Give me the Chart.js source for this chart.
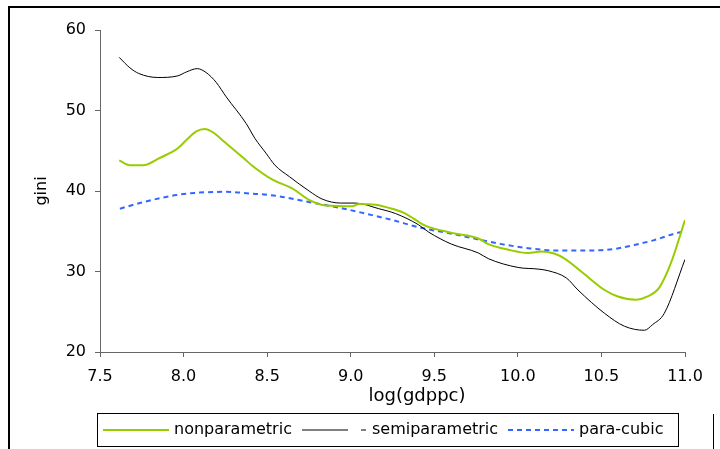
<!DOCTYPE html>
<html>
<head>
<meta charset="utf-8">
<script src="https://cdn.jsdelivr.net/npm/chart.js@4"></script>
<style>
  html, body { margin: 0; padding: 0; background: #fff; }
  #wrap { width: 720px; height: 449px; position: relative; }
</style>
</head>
<body>
<div id="wrap"><canvas id="c" width="720" height="449"></canvas></div>
<script>
// values
var npX = [7.615, 7.679, 7.758, 7.857, 7.917, 7.966, 8.016, 8.076, 8.126, 8.175, 8.245, 8.364, 8.413, 8.532, 8.652, 8.751, 8.85, 9.009, 9.049, 9.148, 9.247, 9.327, 9.446, 9.605, 9.764, 9.823, 9.943, 10.062, 10.141, 10.221, 10.28, 10.379, 10.519, 10.598, 10.707, 10.777, 10.846, 10.915, 11.0];
var npY = [43.8, 43.2, 43.2, 44.1, 44.7, 45.3, 46.3, 47.4, 47.7, 47.3, 46.1, 44.0, 43.1, 41.4, 40.3, 38.9, 38.2, 38.1, 38.4, 38.3, 37.8, 37.2, 35.7, 34.8, 34.1, 33.4, 32.7, 32.3, 32.5, 32.2, 31.6, 30.0, 27.7, 26.9, 26.5, 26.9, 28.0, 31.0, 36.4];

var semiX = [7.615, 7.679, 7.732, 7.846, 7.965, 8.018, 8.082, 8.136, 8.195, 8.255, 8.374, 8.428, 8.493, 8.547, 8.632, 8.751, 8.829, 8.94, 9.029, 9.168, 9.268, 9.406, 9.466, 9.603, 9.764, 9.823, 10.002, 10.121, 10.181, 10.29, 10.36, 10.519, 10.638, 10.757, 10.806, 10.876, 11.0];
var semiY = [56.6, 55.3, 54.6, 54.1, 54.3, 54.8, 55.2, 54.7, 53.5, 51.7, 48.4, 46.5, 44.7, 43.2, 41.8, 40.0, 39.0, 38.5, 38.5, 37.8, 37.2, 35.8, 34.9, 33.4, 32.3, 31.6, 30.5, 30.3, 30.1, 29.2, 27.7, 24.8, 23.2, 22.7, 23.4, 24.8, 31.5];

var cubicX = [7.619, 7.738, 7.857, 7.957, 8.096, 8.255, 8.394, 8.553, 8.731, 8.96, 9.128, 9.247, 9.426, 9.605, 9.714, 9.903, 10.062, 10.241, 10.419, 10.578, 10.697, 10.816, 10.936, 11.0];
var cubicY = [37.8, 38.5, 39.1, 39.5, 39.8, 39.9, 39.7, 39.4, 38.7, 37.8, 37.0, 36.4, 35.4, 34.7, 34.2, 33.4, 32.9, 32.6, 32.6, 32.8, 33.3, 33.9, 34.7, 35.0];

var seriesNames = ['nonparametric', 'semiparametric', 'para-cubic'];
var xTitle = 'log(gdppc)';
var yTitle = 'gini';

function pts(xs, ys) {
  return xs.map(function (x, i) { return { x: x, y: ys[i] }; });
}

var FONT = "'DejaVu Sans', sans-serif";
Chart.defaults.font.family = FONT;
Chart.defaults.font.size = 16;
Chart.defaults.color = '#000';

// frame, axis titles and the boxed legend
var extras = {
  id: 'extras',
  afterDraw: function (chart) {
    var ctx = chart.ctx;
    ctx.save();
    ctx.strokeStyle = '#000';
    ctx.lineWidth = 2;
    ctx.beginPath();
    ctx.moveTo(9, 449); ctx.lineTo(9, 7); ctx.lineTo(720, 7);
    ctx.stroke();
    ctx.lineWidth = 1;
    ctx.beginPath();
    ctx.moveTo(713.5, 414); ctx.lineTo(713.5, 449);
    ctx.stroke();

    ctx.fillStyle = '#000';
    ctx.textBaseline = 'middle';
    ctx.textAlign = 'center';
    ctx.font = '18px ' + FONT;
    ctx.fillText(xTitle, 417, 396);
    ctx.save();
    ctx.translate(42, 191);
    ctx.rotate(-Math.PI / 2);
    ctx.font = '16px ' + FONT;
    ctx.fillText(yTitle, 0, 0);
    ctx.restore();

    // legend box
    ctx.lineWidth = 1;
    ctx.strokeStyle = '#000';
    ctx.strokeRect(97.5, 413.5, 581, 33);
    var ly = 430;
    var items = [
      { ds: 0, x0: 103, x1: 169, tx: 174 },
      { ds: 1, x0: 302, x1: 348, tx: 372 },
      { ds: 2, x0: 508, x1: 574, tx: 579 }
    ];
    ctx.textAlign = 'left';
    ctx.font = '16px ' + FONT;
    items.forEach(function (it) {
      var d = chart.data.datasets[it.ds];
      ctx.strokeStyle = d.borderColor;
      ctx.lineWidth = d.borderWidth;
      ctx.setLineDash(d.borderDash || []);
      ctx.beginPath();
      ctx.moveTo(it.x0, ly); ctx.lineTo(it.x1, ly);
      ctx.stroke();
      if (it.ds === 1) {
        ctx.beginPath();
        ctx.moveTo(361, ly); ctx.lineTo(366, ly);
        ctx.stroke();
      }
      ctx.setLineDash([]);
      ctx.fillStyle = '#000';
      ctx.fillText(d.label, it.tx, ly);
    });
    ctx.restore();
  }
};

new Chart(document.getElementById('c'), {
  type: 'line',
  data: {
    datasets: [
      { label: seriesNames[0], data: pts(npX, npY), borderColor: '#99cc00', borderWidth: 2, pointRadius: 0, cubicInterpolationMode: 'monotone', fill: false },
      { label: seriesNames[1], data: pts(semiX, semiY), borderColor: '#000000', borderWidth: 1, pointRadius: 0, cubicInterpolationMode: 'monotone', fill: false },
      { label: seriesNames[2], data: pts(cubicX, cubicY), borderColor: '#3366ff', borderWidth: 2, borderDash: [5, 4], pointRadius: 0, cubicInterpolationMode: 'monotone', fill: false }
    ]
  },
  options: {
    responsive: false,
    animation: false,
    layout: { padding: { top: 30, right: 35, left: 0, bottom: 0 } },
    plugins: { legend: { display: false }, tooltip: { enabled: false } },
    scales: {
      x: {
        type: 'linear', min: 7.5, max: 11, 
        ticks: { stepSize: 0.5, padding: 10, callback: function (v) { return v.toFixed(1); } },
        grid: { drawOnChartArea: false, tickLength: 5, color: '#666' },
        border: { color: '#666', width: 1 },
        afterFit: function (s) { s.height = 97; }
      },
      y: {
        min: 20, max: 60,
        ticks: { stepSize: 10, padding: 9 },
        grid: { drawOnChartArea: false, tickLength: 5, color: '#666' },
        border: { color: '#666', width: 1 },
        afterFit: function (s) { s.width = 100; }
      }
    }
  },
  plugins: [extras]
});
</script>
</body>
</html>
